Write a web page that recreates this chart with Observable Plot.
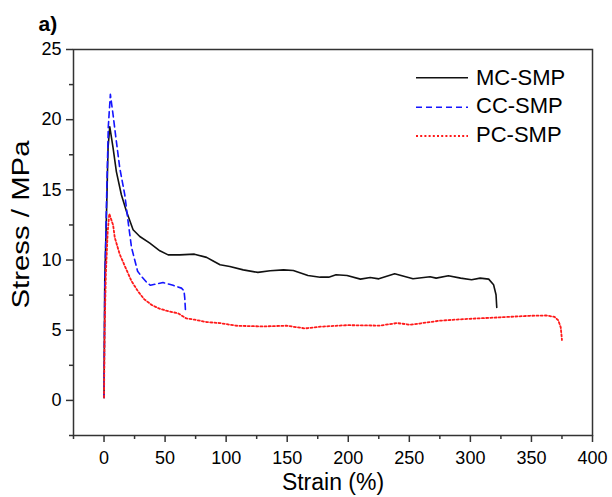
<!DOCTYPE html>
<html>
<head>
<meta charset="utf-8">
<script src="https://cdn.jsdelivr.net/npm/d3@7"></script>
<script src="https://cdn.jsdelivr.net/npm/@observablehq/plot@0.6"></script>
<style>
  html, body { margin: 0; padding: 0; background: white; }
</style>
</head>
<body>
<div id="chart"></div>
<script>
// ---- data ----
const seriesNames = ["MC-SMP", "CC-SMP", "PC-SMP"];

const mcStrain = [0, 0.6, 2, 3.3, 4.7, 7.4, 10.1, 14.2, 18.4, 23.8, 29.3, 37.5, 45.7, 52.5, 62, 74, 84, 89, 95, 103, 114, 126, 136, 147, 155, 167, 177, 184, 190, 199, 210, 218, 225, 238, 253, 267, 272, 282, 292, 301, 308, 315, 319, 321, 321.6];
const mcStress = [0.2, 8.5, 13.2, 18, 19.5, 18, 16.3, 14.65, 13.46, 12.16, 11.68, 11.2, 10.66, 10.37, 10.37, 10.42, 10.19, 9.95, 9.66, 9.54, 9.3, 9.12, 9.24, 9.3, 9.26, 8.9, 8.78, 8.78, 8.95, 8.9, 8.64, 8.76, 8.66, 9.02, 8.67, 8.81, 8.71, 8.88, 8.71, 8.6, 8.71, 8.64, 8.24, 7.53, 6.62];

const ccStrain = [0, 0.6, 2, 3.5, 5.2, 7.4, 10.1, 12.9, 17, 19.7, 22.5, 27.5, 31, 35, 38, 42.9, 48.3, 56.6, 63.4, 65.5, 66.1, 66.7];
const ccStress = [0.2, 8, 14, 19.5, 21.8, 20.35, 18.45, 16.55, 14.65, 12.75, 10.9, 9.2, 8.8, 8.4, 8.2, 8.3, 8.4, 8.2, 8.0, 7.8, 7.3, 6.4];

const pcStrain = [0, 0.5, 1.5, 3, 4.3, 7.4, 8.8, 12.9, 18.4, 22.5, 27.9, 33, 38.9, 45, 51.1, 60.7, 67.5, 74.3, 84, 94.8, 108.5, 130, 149.5, 164.5, 177, 199, 226, 240, 251, 275, 294, 322, 349, 362, 369, 372, 374, 375];
const pcStress = [0.2, 5, 9, 12, 13.3, 12.5, 11.6, 10.4, 9.3, 8.5, 7.76, 7.2, 6.81, 6.55, 6.39, 6.2, 5.84, 5.75, 5.58, 5.51, 5.32, 5.27, 5.32, 5.13, 5.25, 5.36, 5.33, 5.51, 5.39, 5.68, 5.79, 5.91, 6.03, 6.05, 5.95, 5.7, 5.2, 4.3];

const xMajorTicks = [0, 50, 100, 150, 200, 250, 300, 350, 400];
const xMinorTicks = [-25, 25, 75, 125, 175, 225, 275, 325, 375];
const yMajorTicks = [0, 5, 10, 15, 20, 25];
const yMinorTicks = [-2.5, 2.5, 7.5, 12.5, 17.5, 22.5];

const xLabel = "Strain (%)";
const yLabel = "Stress / MPa";
const panelLabel = "a)";

// ---- build ----
const toRows = (xs, ys) => xs.map((x, i) => ({strain: x, stress: ys[i]}));
const mc = toRows(mcStrain, mcStress);
const cc = toRows(ccStrain, ccStress);
const pc = toRows(pcStrain, pcStress);

const styles = [
  {stroke: "#111", strokeWidth: 1.6, dash: null},
  {stroke: "#1515ff", strokeWidth: 1.6, dash: "6,4"},
  {stroke: "#ff1a1a", strokeWidth: 1.8, dash: "2,2.2"}
];

const W = 612, H = 497;
const mL = 73, mR = 20, mT = 49, mB = 62;
const font = "'Liberation Sans', Arial, Helvetica, sans-serif";

const plot = Plot.plot({
  width: W,
  height: H,
  marginLeft: mL,
  marginRight: mR,
  marginTop: mT,
  marginBottom: mB,
  style: {fontFamily: font, fontSize: "18px", background: "white", color: "black", overflow: "visible"},
  x: {domain: [-25, 400], label: null},
  y: {domain: [-2.5, 25], label: null},
  marks: [
    Plot.axisX(xMajorTicks, {tickSize: 7, tickPadding: 9, fontSize: 18, stroke: "#333", strokeWidth: 1.5, fill: "black", label: null}),
    Plot.axisX(xMinorTicks, {tickSize: 4, tickFormat: () => "", stroke: "#333", strokeWidth: 1.5, label: null}),
    Plot.axisY(yMajorTicks, {tickSize: 7, tickPadding: 5, fontSize: 18, stroke: "#333", strokeWidth: 1.5, fill: "black", label: null}),
    Plot.axisY(yMinorTicks, {tickSize: 4, tickFormat: () => "", stroke: "#333", strokeWidth: 1.5, label: null}),
    Plot.frame({stroke: "#333", strokeWidth: 1.5}),
    Plot.line(mc, {x: "strain", y: "stress", stroke: styles[0].stroke, strokeWidth: styles[0].strokeWidth}),
    Plot.line(cc, {x: "strain", y: "stress", stroke: styles[1].stroke, strokeWidth: styles[1].strokeWidth, strokeDasharray: styles[1].dash}),
    Plot.line(pc, {x: "strain", y: "stress", stroke: styles[2].stroke, strokeWidth: styles[2].strokeWidth, strokeDasharray: styles[2].dash}),
    Plot.text([xLabel], {frameAnchor: "bottom", dy: 54, lineAnchor: "bottom", fontSize: 23, fill: "black"}),
    Plot.text([yLabel], {frameAnchor: "left", dx: -52, dy: 66, rotate: -90, textAnchor: "start", lineAnchor: "middle", fontSize: 23, fill: "black", className: "ytitle"}),
    Plot.text([panelLabel], {frameAnchor: "top-left", dx: -35, dy: -19, textAnchor: "start", lineAnchor: "bottom", fontSize: 21, fontWeight: "bold", fill: "black"})
  ]
});

// stretch the y title along its direction to match the reference length
d3.select(plot).selectAll(".ytitle text")
  .attr("textLength", 168)
  .attr("lengthAdjust", "spacingAndGlyphs");

// legend inside the frame, top-right
const svg = d3.select(plot);
const lg = svg.append("g").attr("class", "legend").attr("text-anchor", "start");
const frameRight = W - mR;
const lx1 = frameRight - 176, lx2 = frameRight - 124, tx = frameRight - 116;
const lineYs = [mT + 28.7, mT + 58.3, mT + 87];
const baseYs = [mT + 36, mT + 64, mT + 92.5];
seriesNames.forEach((name, i) => {
  lg.append("line")
    .attr("x1", lx1).attr("x2", lx2)
    .attr("y1", lineYs[i]).attr("y2", lineYs[i])
    .attr("stroke", styles[i].stroke)
    .attr("stroke-width", styles[i].strokeWidth)
    .attr("stroke-dasharray", styles[i].dash);
  lg.append("text")
    .attr("x", tx).attr("y", baseYs[i])
    .attr("text-anchor", "start")
    .attr("font-size", 22)
    .attr("font-family", font)
    .attr("fill", "black")
    .text(name);
});

document.getElementById("chart").appendChild(plot);
</script>
</body>
</html>
